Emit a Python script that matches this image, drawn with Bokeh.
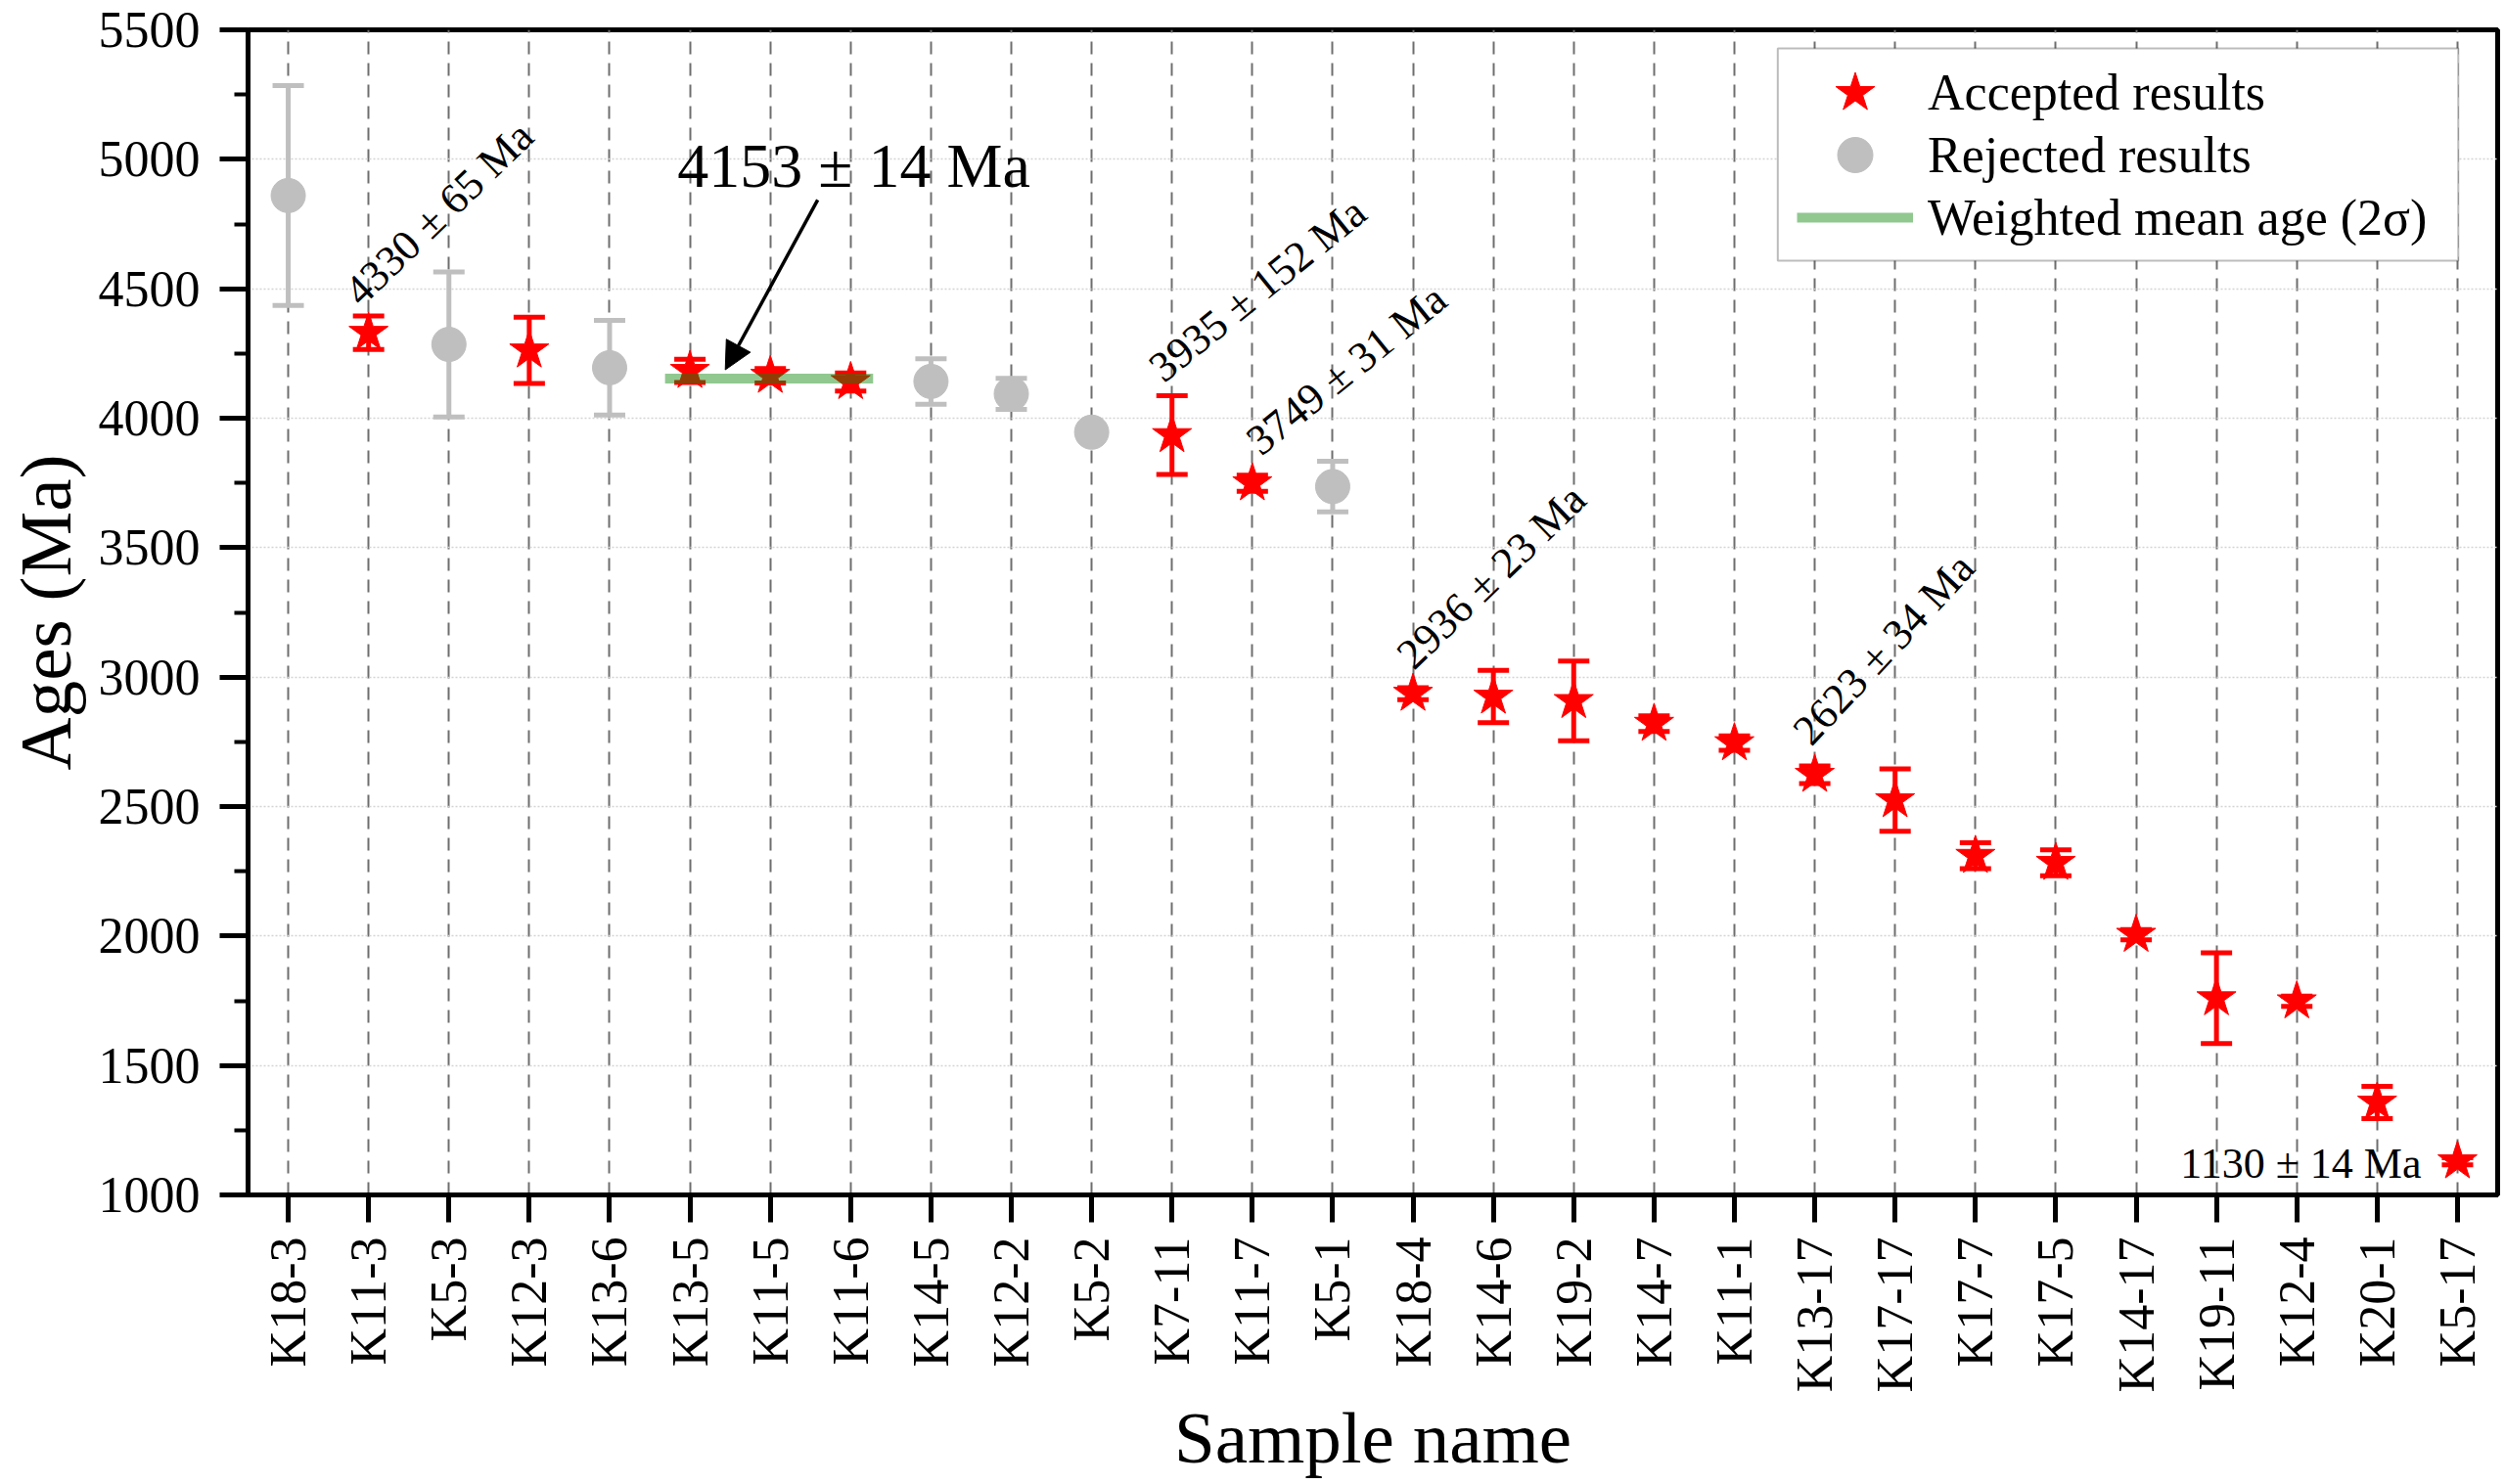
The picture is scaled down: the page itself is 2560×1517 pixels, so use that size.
import math

from bokeh.core.properties import value
from bokeh.embed import file_html
from bokeh.models import (Arrow, BoxAnnotation, ColumnDataSource, FixedTicker, Legend,
                          LegendItem, NormalHead, Range1d, SingleIntervalTicker, TeeHead,
                          Whisker)
from bokeh.plotting import figure
from bokeh.resources import INLINE

# ---- data -----------------------------------------------------------------
samples = ["K18-3", "K11-3", "K5-3", "K12-3", "K13-6", "K13-5", "K11-5", "K11-6",
           "K14-5", "K12-2", "K5-2", "K7-11", "K11-7", "K5-1", "K18-4", "K14-6",
           "K19-2", "K14-7", "K11-1", "K13-17", "K17-17", "K17-7", "K17-5", "K14-17",
           "K19-11", "K12-4", "K20-1", "K5-17"]
ages = [4860, 4330, 4285, 4262, 4195, 4183, 4164, 4140,
        4142, 4094, 3946, 3935, 3749, 3736, 2936, 2925,
        2908, 2820, 2745, 2623, 2525, 2310, 2283, 2005,
        1760, 1748, 1357, 1130]
errors = [425, 65, 280, 128, 183, 45, 28, 35,
          88, 60, 10, 152, 31, 98, 23, 101,
          154, 30, 28, 34, 120, 50, 50, 20,
          175, 20, 62, 14]
accepted = [False, True, False, True, False, True, True, True,
            False, False, False, True, True, False, True, True,
            True, True, True, True, True, True, True, True,
            True, True, True, True]

# weighted mean of the three oldest concordant grains
mean_age = 4153
mean_err = 14
mean_group = ["K13-5", "K11-5", "K11-6"]

# samples whose individual ages are written next to the marker
labelled = ["K11-3", "K7-11", "K11-7", "K18-4", "K13-17", "K5-17"]

# ---- styling --------------------------------------------------------------
FONT = "Liberation Serif"
RED = "#ff0000"
GREY = "#bfbfbf"

# label placement: (x offset in categories, y offset in Ma, angle in degrees)
label_layout = {
    "K11-3": (-0.21, 135, 44),
    "K7-11": (-0.21, 241, 39),
    "K11-7": (0.0, 144, 39),
    "K18-4": (-0.11, 127, 44),
    "K13-17": (-0.17, 143, 47),
}
flat_label_layout = {"K5-17": (-0.45, -10)}

n = len(samples)
xs = list(range(n))


def subset(flag):
    idx = [i for i in xs if accepted[i] == flag]
    return ColumnDataSource(dict(
        x=idx,
        age=[ages[i] for i in idx],
        upper=[ages[i] + errors[i] for i in idx],
        lower=[ages[i] - errors[i] for i in idx],
    ))


acc_src = subset(True)
rej_src = subset(False)

p = figure(width=2560, height=1517, output_backend="svg", toolbar_location=None,
           x_range=Range1d(-0.5, n - 0.5), y_range=Range1d(1000, 5500),
           min_border_left=253, min_border_right=8, min_border_top=30,
           min_border_bottom=296)
p.background_fill_color = "white"
p.border_fill_color = "white"
p.outline_line_color = "black"
p.outline_line_width = 5

# ---- axes -----------------------------------------------------------------
xax = p.xaxis[0]
xax.ticker = FixedTicker(ticks=xs)
xax.major_label_overrides = {i: s for i, s in enumerate(samples)}
xax.major_label_orientation = math.pi / 2
xax.axis_label = "Sample name"

yax = p.yaxis[0]
yax.ticker = SingleIntervalTicker(interval=500, num_minor_ticks=2)
yax.axis_label = "Ages (Ma)"

for ax in (xax, yax):
    ax.axis_line_color = "black"
    ax.axis_line_width = 5
    ax.major_tick_line_color = "black"
    ax.major_tick_line_width = 5
    ax.major_tick_in = 0
    ax.minor_tick_in = 0
    ax.major_label_text_font = FONT
    ax.major_label_text_font_size = "52px"
    ax.major_label_text_color = "black"
    ax.axis_label_text_font = FONT
    ax.axis_label_text_font_size = "75px"
    ax.axis_label_text_font_style = "normal"
    ax.axis_label_text_color = "black"

xax.major_tick_out = 28
xax.minor_tick_out = 0
xax.major_label_standoff = 15
xax.axis_label_standoff = 2

yax.major_tick_out = 29
yax.minor_tick_out = 14
yax.minor_tick_line_color = "black"
yax.minor_tick_line_width = 4
yax.major_label_standoff = 20
yax.axis_label_standoff = 10

# ---- grid -----------------------------------------------------------------
p.xgrid.ticker = FixedTicker(ticks=xs)
p.xgrid.grid_line_color = "#6e6e6e"
p.xgrid.grid_line_width = 2
p.xgrid.grid_line_dash = "13 9"
p.ygrid.ticker = SingleIntervalTicker(interval=500)
p.ygrid.grid_line_color = "#d4d4d4"
p.ygrid.grid_line_width = 1.5
p.ygrid.grid_line_dash = "2 2"

# ---- error bars and markers ----------------------------------------------
for src, col in ((rej_src, GREY), (acc_src, RED)):
    p.add_layout(Whisker(
        source=src, base="x", upper="upper", lower="lower", dimension="height",
        line_color=col, line_width=5,
        upper_head=TeeHead(size=32, line_color=col, line_width=5),
        lower_head=TeeHead(size=32, line_color=col, line_width=5),
    ))

r_rej = p.scatter("x", "age", source=rej_src, marker="circle", size=35,
                  fill_color=GREY, line_color=GREY)
r_acc = p.scatter("x", "age", source=acc_src, marker="star", size=42,
                  fill_color=RED, line_color=RED)

# weighted mean bar across the grouped grains
g_idx = [samples.index(s) for s in mean_group]
r_mean = p.line(x=[min(g_idx) - 0.31, max(g_idx) + 0.28], y=[mean_age, mean_age],
                line_color=(9, 133, 9), line_alpha=0.45, line_width=10)

# ---- annotations ----------------------------------------------------------
rot = dict(x=[], y=[], text=[], angle=[])
for s in labelled:
    if s not in label_layout:
        continue
    i = samples.index(s)
    dx, dy, ang = label_layout[s]
    rot["x"].append(i + dx)
    rot["y"].append(ages[i] + dy)
    rot["text"].append(f"{ages[i]} \u00b1 {errors[i]} Ma")
    rot["angle"].append(math.radians(ang))
p.text("x", "y", text="text", angle="angle", source=ColumnDataSource(rot),
       text_font=value(FONT), text_font_size=value("44px"), text_color="black",
       text_align="left", text_baseline="alphabetic")

flat = dict(x=[], y=[], text=[])
for s, (dx, dy) in flat_label_layout.items():
    i = samples.index(s)
    flat["x"].append(i + dx)
    flat["y"].append(ages[i] + dy)
    flat["text"].append(f"{ages[i]} \u00b1 {errors[i]} Ma")
p.text("x", "y", text="text", source=ColumnDataSource(flat),
       text_font=value(FONT), text_font_size=value("44px"), text_color="black",
       text_align="right", text_baseline="alphabetic")

p.text(x=[7.04], y=[mean_age + 820], text=[f"{mean_age} \u00b1 {mean_err} Ma"],
       text_font=value(FONT), text_font_size=value("64px"), text_color="black",
       text_align="center", text_baseline="alphabetic")

p.add_layout(Arrow(end=NormalHead(size=28, fill_color="black", line_color="black"),
                   x_start=6.59, y_start=mean_age + 690,
                   x_end=5.44, y_end=mean_age + 34,
                   line_color="black", line_width=3.5))

# ---- legend ---------------------------------------------------------------
p.add_layout(BoxAnnotation(left=18.54, right=27.01, top=5428, bottom=4608,
                           fill_color="white", fill_alpha=1.0,
                           line_color="#222222", line_width=2))

# one single-row legend per entry so that each swatch keeps its own size
entries = [
    ("Accepted results", r_acc, 105, 1074),
    ("Rejected results", r_rej, 90, 1018),
    ("Weighted mean age (2\u03c3)", r_mean, 60, 969),
]
for label, rend, gh, vy in entries:
    p.add_layout(Legend(
        items=[LegendItem(label=label, renderers=[rend])],
        location=(1583, vy), orientation="vertical",
        glyph_width=119, glyph_height=gh, spacing=0, padding=0, margin=0,
        label_standoff=15, label_text_font=FONT, label_text_font_size="52px",
        label_text_color="black", border_line_alpha=0, background_fill_alpha=0,
    ))

open("out.html", "w").write(file_html(p, INLINE))
